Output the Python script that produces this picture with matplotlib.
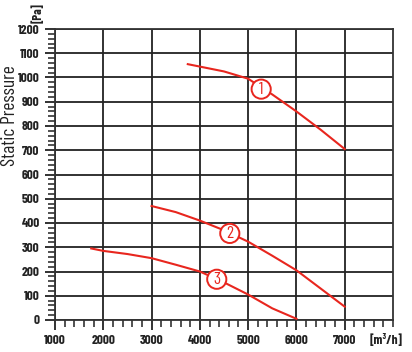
import numpy as np
import matplotlib.pyplot as plt
from matplotlib.ticker import MultipleLocator

# Fan curves: airflow [m3/h] vs static pressure [Pa]
curve1_flow = [3750, 4000, 4500, 5000, 5500, 6000, 6500, 7000]
curve1_pres = [1055, 1045, 1025, 995, 930, 860, 785, 705]

curve2_flow = [3000, 3500, 4000, 4500, 5000, 5500, 6000, 6500, 7000]
curve2_pres = [470, 445, 410, 370, 323, 265, 205, 130, 55]

curve3_flow = [1750, 2000, 2500, 3000, 3500, 4000, 4500, 5000, 5500, 6000]
curve3_pres = [295, 285, 272, 255, 228, 200, 155, 105, 48, 5]

labels = ["1", "2", "3"]
label_flow = [5270, 4620, 4350]
label_pres = [952, 357, 168]

RED = "#e8261e"
COND = ["Barlow Condensed", "DejaVu Sans"]
font = dict(family=COND, fontweight="bold")

fig = plt.figure(figsize=(4.12, 3.52), dpi=100)
ax = fig.add_axes([55 / 412, 1 - 320 / 352, (393 - 55) / 412, (320 - 29) / 352])

for fl, pr in [(curve1_flow, curve1_pres), (curve2_flow, curve2_pres), (curve3_flow, curve3_pres)]:
    ax.plot(fl, pr, color=RED, lw=1.5, zorder=3)

for lab, fx, py in zip(labels, label_flow, label_pres):
    ax.text(fx, py, lab, color=RED, ha="center", va="center", fontsize=12.5,
            family=COND,
            bbox=dict(boxstyle="circle,pad=0.12", fc="white", ec=RED, lw=1.4), zorder=4)

ax.set_xlim(1000, 8000)
ax.set_ylim(0, 1200)
ax.xaxis.set_major_locator(MultipleLocator(1000))
ax.xaxis.set_minor_locator(MultipleLocator(200))
ax.yaxis.set_major_locator(MultipleLocator(100))
ax.yaxis.set_minor_locator(MultipleLocator(20))
ax.grid(which="major", color="#222222", lw=1.3)

ax.tick_params(which="major", length=7, width=1.3, color="#222222", pad=4)
ax.tick_params(which="minor", length=5, width=1.1, color="#222222")
for sp in ax.spines.values():
    sp.set_color("#333333")
    sp.set_linewidth(1.3)

xt = np.arange(1000, 8000, 1000)
ax.set_xticks(xt)
ax.set_xticklabels([str(v) for v in xt], fontsize=9.5, color="#222222", **font)
yt = np.arange(0, 1300, 100)
ax.set_yticks(yt)
ax.set_yticklabels([str(v) for v in yt], fontsize=9.5, color="#222222", **font)

fig.text(10.5 / 412, 1 - 116 / 352, "Static Pressure", rotation=90, ha="center", va="center",
         fontsize=14, family=COND, color="#222222")
fig.text(37 / 412, 1 - 13 / 352, "[Pa]", rotation=90, ha="center", va="center",
         fontsize=9, color="#222222", **font)
fig.text(386 / 412, 1 - 339 / 352, "[m³/h]", ha="center", va="center",
         fontsize=9.5, color="#222222", **font)

fig.savefig("out.png", dpi=100)
